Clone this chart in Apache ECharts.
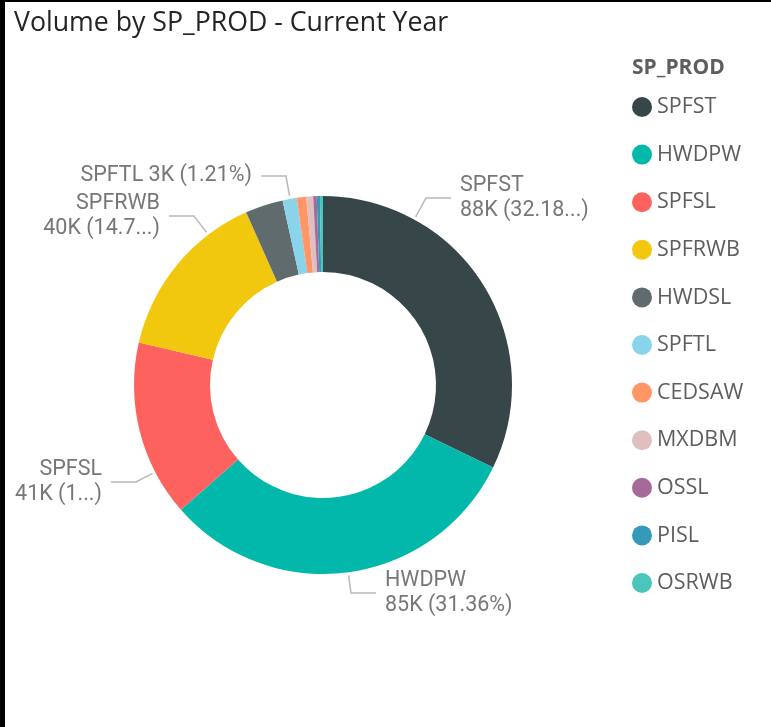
<!DOCTYPE html>
<html>
<head>
<meta charset="utf-8">
<script src="https://cdn.jsdelivr.net/npm/echarts@6/dist/echarts.min.js"></script>
<style>
  html, body { margin: 0; padding: 0; background: #fff; }
  #chart { width: 771px; height: 727px; }
  #frame {
    position: absolute; left: 0; top: 0; width: 771px; height: 727px;
    box-sizing: border-box; border-left: 5px solid #000; border-top: 2px solid #000;
    pointer-events: none;
  }
</style>
</head>
<body>
<div id="chart"></div>
<div id="frame"></div>
<script>
// 产品类别
var products = ['SPFST', 'HWDPW', 'SPFSL', 'SPFRWB', 'HWDSL', 'SPFTL', 'CEDSAW', 'MXDBM', 'OSSL', 'PISL', 'OSRWB'];
// 销量 (K)
var volumes = [87.6, 85.35, 41.0, 40.1, 8.8, 3.3, 2.2, 1.6, 0.8, 0.75, 0.7];
// 标签文字 (空 = 不显示)
var labelTexts = ['SPFST\n88K (32.18...)', 'HWDPW\n85K (31.36%)', 'SPFSL\n41K (1...)', 'SPFRWB\n40K (14.7...)', '', 'SPFTL 3K (1.21%)', '', '', '', '', ''];
var colors = ['#374649', '#01B8AA', '#FD625E', '#F2C80F', '#5F6B6D', '#8AD4EB', '#FE9666', '#DFBFBF', '#A66999', '#3599B8', '#4AC5BB'];

var pieCenter = [323, 385];
var pieRadius = [113, 189];

// 标签位置
var labelPos = {
  SPFST: { x: 460, y: 198, align: 'left' },
  HWDPW: { x: 385, y: 593, align: 'left' },
  SPFSL: { x: 102, y: 482, align: 'right' },
  SPFRWB: { x: 160, y: 216, align: 'right' },
  SPFTL: { x: 252, y: 176, align: 'right' }
};

var chart = echarts.init(document.getElementById('chart'));

var seriesData = products.map(function (name, i) {
  return {
    name: name,
    value: volumes[i],
    label: { show: labelTexts[i] !== '' },
    labelLine: { show: labelTexts[i] !== '' }
  };
});

// 引导线: 标签边 -> 水平一段 -> 外圆
function leaderPoints(pos) {
  var gap = 9, len2 = 25;
  var dir = pos.align === 'left' ? -1 : 1;
  var p2 = [pos.x + dir * gap, pos.y];
  var p1 = [p2[0] + dir * len2, pos.y];
  var dx = p1[0] - pieCenter[0], dy = p1[1] - pieCenter[1];
  var d = Math.sqrt(dx * dx + dy * dy);
  var r = pieRadius[1] + 3;
  var p0 = [pieCenter[0] + dx / d * r, pieCenter[1] + dy / d * r];
  return [p0, p1, p2];
}

var option = {
  color: colors,
  title: [
    {
      text: 'Volume by SP_PROD - Current Year',
      left: 9,
      top: 5,
      textStyle: { fontFamily: 'Open Sans', fontSize: 26.7, fontWeight: 'normal', color: '#252423' }
    },
    {
      text: 'SP_PROD',
      left: 627,
      top: 53,
      textStyle: { fontFamily: 'Open Sans', fontSize: 21, fontWeight: 'bold', color: '#605E5C' }
    }
  ],
  legend: {
    orient: 'vertical',
    left: 627,
    top: 91,
    icon: 'circle',
    itemWidth: 20,
    itemHeight: 20,
    itemGap: 25.6,
    textStyle: { fontFamily: 'Open Sans', fontSize: 21.5, color: '#605E5C', lineHeight: 20 },
    data: products
  },
  series: [
    {
      type: 'pie',
      center: pieCenter,
      radius: pieRadius,
      startAngle: 90,
      clockwise: true,
      avoidLabelOverlap: false,
      itemStyle: { borderWidth: 0 },
      label: {
        formatter: function (p) { return labelTexts[p.dataIndex]; },
        fontFamily: 'Roboto',
        fontSize: 21.5,
        lineHeight: 25,
        color: '#777777'
      },
      labelLine: {
        lineStyle: { color: '#b8b8b8', width: 1.5 }
      },
      labelLayout: function (params) {
        var pos = labelPos[products[params.dataIndex]];
        if (!pos) return {};
        return {
          x: pos.x,
          y: pos.y,
          align: pos.align,
          verticalAlign: 'middle',
          labelLinePoints: leaderPoints(pos)
        };
      },
      data: seriesData
    }
  ]
};

chart.setOption(option);
</script>
</body>
</html>
